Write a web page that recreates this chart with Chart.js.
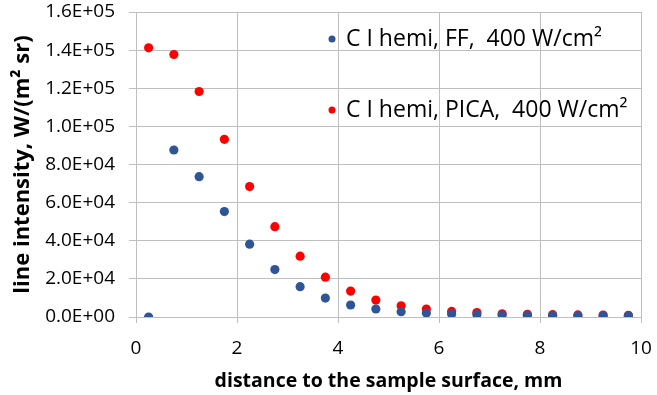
<!DOCTYPE html>
<html>
<head>
<meta charset="utf-8">
<script src="https://cdn.jsdelivr.net/npm/chart.js@4.4.1/dist/chart.umd.min.js"></script>
<style>
  html, body { margin: 0; padding: 0; background: #fff; }
  #wrap { width: 657px; height: 395px; }
</style>
</head>
<body>
<div id="wrap"><canvas id="c" width="657" height="395"></canvas></div>
<script>
// ---------------- DATA ----------------
const distances = [0.25, 0.75, 1.25, 1.75, 2.25, 2.75, 3.25, 3.75, 4.25, 4.75,
                   5.25, 5.75, 6.25, 6.75, 7.25, 7.75, 8.25, 8.75, 9.25, 9.75];
const ffValues = [0, 87600, 73600, 55300, 38200, 24900, 15900, 9950, 6300, 4200,
                  2800, 2100, 1600, 1300, 1000, 900, 800, 700, 600, 500];
const picaValues = [141200, 137700, 118300, 93200, 68400, 47400, 31900, 20900, 13600, 8900,
                    5900, 4200, 2900, 2300, 1700, 1400, 1200, 1100, 1000, 900];
const seriesNames = ["C I hemi, FF,  400 W/cm²", "C I hemi, PICA,  400 W/cm²"];
const seriesColors = ["#2F5597", "#FF0000"];
const xTicks = [0, 2, 4, 6, 8, 10];
const yTicks = [0, 20000, 40000, 60000, 80000, 100000, 120000, 140000, 160000];

const FONT = "'Open Sans', sans-serif";
const GRID = "#BFBFBF";

function sci(v) {
    // 1.6E+05 style
    const [m, e] = v.toExponential(1).split("e");
    const n = parseInt(e, 10);
    return m.toUpperCase() + "E" + (n < 0 ? "-" : "+") + String(Math.abs(n)).padStart(2, "0");
}

// legend drawn inside the plot, two rows far apart
const insideLegend = {
    id: "insideLegend",
    afterDatasetsDraw(chart) {
        const ctx = chart.ctx;
        const rows = [39, 110];
        ctx.save();
        ctx.font = "23px " + FONT;
        ctx.textBaseline = "middle";
        seriesNames.forEach((name, i) => {
            ctx.beginPath();
            ctx.arc(332, rows[i], 3.5, 0, Math.PI * 2);
            ctx.fillStyle = seriesColors[i];
            ctx.fill();
            ctx.fillStyle = "#000";
            ctx.fillText(name, 346, rows[i]);
        });
        ctx.restore();
    }
};

const makePoints = (vals) => distances.map((x, i) => ({ x: x, y: vals[i] }));

new Chart(document.getElementById("c"), {
    type: "scatter",
    data: {
        datasets: [
            {
                label: seriesNames[0],
                data: makePoints(ffValues),
                backgroundColor: seriesColors[0],
                borderColor: seriesColors[0],
                pointRadius: 4.6,
                borderWidth: 0
            },
            {
                label: seriesNames[1],
                data: makePoints(picaValues),
                backgroundColor: seriesColors[1],
                borderColor: seriesColors[1],
                pointRadius: 4.6,
                borderWidth: 0
            }
        ]
    },
    options: {
        responsive: false,
        animation: false,
        devicePixelRatio: 1,
        layout: { padding: { top: 12, right: 16, left: 0, bottom: 0 } },
        plugins: {
            legend: { display: false },
            tooltip: { enabled: false }
        },
        scales: {
            x: {
                type: "linear",
                min: 0,
                max: 10,
                afterBuildTicks: (s) => { s.ticks = xTicks.map(v => ({ value: v })); },
                afterFit: (s) => { s.height = 78; s.paddingLeft = 0; s.paddingRight = 0; },
                grid: { color: GRID, lineWidth: 1, tickLength: 6, tickColor: GRID },
                border: { color: GRID },
                ticks: { font: { family: FONT, size: 19 }, color: "#000", padding: 14 },
                title: {
                    display: true,
                    text: "distance to the sample surface, mm",
                    font: { family: FONT, size: 19.5, weight: "bold" },
                    color: "#000",
                    padding: { top: 0, bottom: 2 }
                }
            },
            y: {
                type: "linear",
                min: 0,
                max: 160000,
                afterBuildTicks: (s) => { s.ticks = yTicks.map(v => ({ value: v })); },
                afterFit: (s) => { s.width = 136; s.paddingTop = 0; s.paddingBottom = 0; },
                grid: { color: GRID, lineWidth: 1, tickLength: 7, tickColor: GRID },
                border: { color: GRID },
                ticks: {
                    font: { family: FONT, size: 19 },
                    color: "#000",
                    padding: 14,
                    callback: (v) => sci(v)
                },
                title: {
                    display: true,
                    text: "line intensity, W/(m² sr)",
                    font: { family: FONT, size: 22, weight: "bold" },
                    color: "#000",
                    padding: { top: 10, bottom: 0 }
                }
            }
        }
    },
    plugins: [insideLegend]
});
</script>
</body>
</html>
